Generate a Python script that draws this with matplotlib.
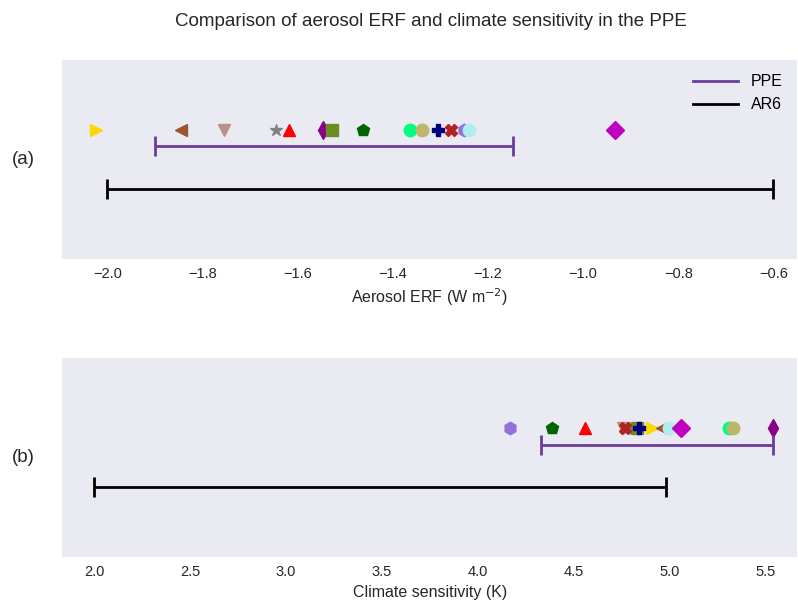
import numpy as np
import matplotlib.pyplot as plt
from matplotlib.lines import Line2D

plt.rcParams['font.family'] = ['Liberation Sans', 'DejaVu Sans']

# PPE members: marker, colour, aerosol ERF, climate sensitivity
markers = ['>', '<', 'v', '*', '^', 'd', 's', 'p', 'o', 'o', 'P', 'X', 'h', 'o', 'D']
colors = ['gold', 'sienna', 'rosybrown', 'gray', 'red', 'darkmagenta', 'olivedrab',
          'darkgreen', 'springgreen', 'darkkhaki', 'navy', 'firebrick',
          'mediumpurple', 'paleturquoise', 'm']
erf = [-2.025, -1.846, -1.756, -1.646, -1.618, -1.546, -1.528, -1.462,
       -1.363, -1.339, -1.305, -1.278, -1.25, -1.24, -0.933]
ecs = [4.91, 4.96, 4.76, 4.79, 4.56, 5.54, 4.83, 4.39,
       5.31, 5.33, 4.84, 4.77, 4.17, 5.0, 5.06]

ppe_erf = [-1.9, -1.147]
ar6_erf = [-2.0, -0.6]
ppe_ecs = [4.33, 5.54]
ar6_ecs = [2.0, 4.98]

fig, axes = plt.subplots(2, 1, figsize=(7.98, 6.12), dpi=100)
fig.subplots_adjust(left=0.078, right=0.999, top=0.902, bottom=0.09, hspace=0.5)

y_mark, y_ppe, y_ar6 = 0.65, 0.565, 0.35

panels = [(axes[0], erf, ppe_erf, ar6_erf, (-2.095, -0.55), '(a)',
           'Aerosol ERF (W m$^{-2}$)', np.arange(-2.0, -0.5, 0.2)),
          (axes[1], ecs, ppe_ecs, ar6_ecs, (1.833, 5.667), '(b)',
           'Climate sensitivity (K)', np.arange(2.0, 5.6, 0.5))]

for ax, vals, ppe, ar6, xl, lab, xlab, ticks in panels:
    ax.set_facecolor('#EAEAF2')
    for s in ax.spines.values():
        s.set_visible(False)
    for v, m, c in zip(vals, markers, colors):
        ax.plot(v, y_mark, marker=m, color=c, ms=9, ls='none')
    mid = np.mean(ppe)
    ax.errorbar(mid, y_ppe, xerr=[[mid - ppe[0]], [ppe[1] - mid]], color='#6a3d9a',
                lw=2, capsize=7, capthick=2)
    mid = np.mean(ar6)
    ax.errorbar(mid, y_ar6, xerr=[[mid - ar6[0]], [ar6[1] - mid]], color='black',
                lw=2, capsize=7, capthick=2)
    ax.set_xlim(xl)
    ax.set_ylim(0, 1)
    ax.set_yticks([])
    ax.set_xticks(ticks)
    ax.set_xticklabels(['%.1f' % t for t in ticks])
    ax.set_xticklabels([('%.1f' % t).replace('-', '\u2212') for t in ticks])
    ax.tick_params(axis='x', length=0, labelsize=10.5, colors='#262626', pad=6)
    ax.set_xlabel(xlab, fontsize=11.5, color='#262626')
    ax.set_ylabel(lab, rotation=0, fontsize=13.5, color='#262626', labelpad=28, va='center')

h = [Line2D([], [], color='#6a3d9a', lw=2), Line2D([], [], color='black', lw=2)]
axes[0].legend(h, ['PPE', 'AR6'], loc='upper right', frameon=False, fontsize=11.5,
               handlelength=2.8)

fig.text(0.54, 0.965, 'Comparison of aerosol ERF and climate sensitivity in the PPE',
         ha='center', va='center', fontsize=13.5, color='#262626')

fig.savefig('out.png', dpi=100)
